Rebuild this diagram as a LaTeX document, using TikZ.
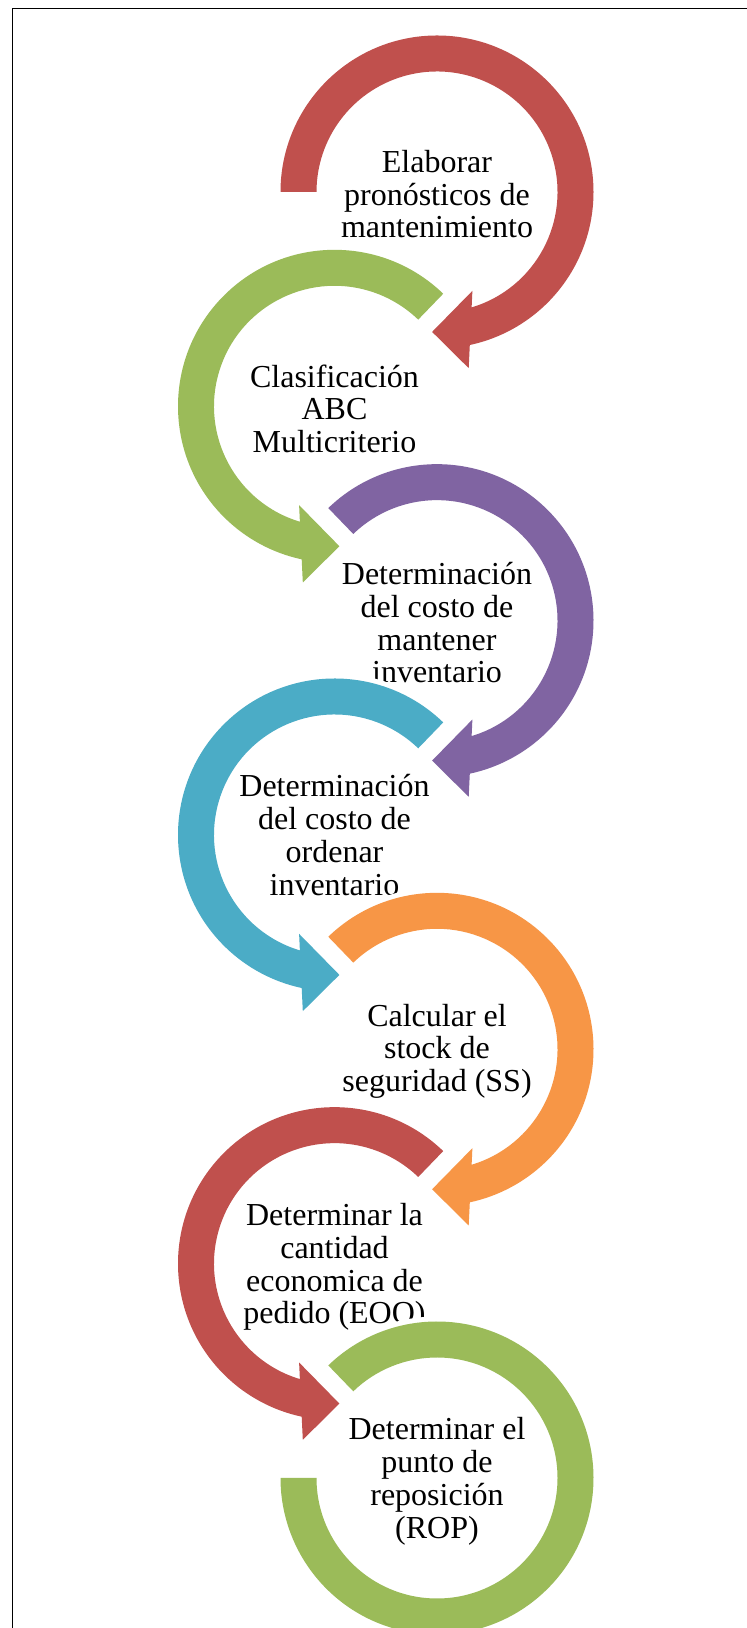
\documentclass[tikz,border=0pt]{standalone}
\usepackage{fontspec}
\setmainfont{Liberation Serif}
\usetikzlibrary{calc}
\definecolor{cRed}{HTML}{C0504D}
\definecolor{cGreen}{HTML}{9BBB59}
\definecolor{cPurple}{HTML}{8064A2}
\definecolor{cAqua}{HTML}{4BACC6}
\definecolor{cOrange}{HTML}{F79646}
\tikzset{
  ringshape/.style={fill=#1, preaction={draw=white, line width=10pt, line join=miter}},
  steplabel/.style={align=center, inner sep=0pt, font=\fontsize{32}{32.8}\selectfont, text=black},
  frameline/.style={draw=black, line width=1.4pt},
}
% ring turning clockwise (right column): centre, start angle, colour
\newcommand\cwring[3]{%
  \path[ringshape=#3] ($(#1)+(#2:156.5)$) arc[start angle=#2, end angle=-77.9, radius=156.5]
    -- ($(#1)+(-79.8:179)$) -- ($(#1)+(-92:140)$) -- ($(#1)+(-70.3:105)$) -- ($(#1)+(-73.3:120.5)$)
    arc[start angle=-73.3, end angle=#2, radius=120.5] -- cycle;}
% ring turning counter-clockwise (left column): centre, colour
\newcommand\ccwring[2]{%
  \path[ringshape=#2] ($(#1)+(46:156.5)$) arc[start angle=46, end angle=257.9, radius=156.5]
    -- ($(#1)+(259.8:179)$) -- ($(#1)+(272:140)$) -- ($(#1)+(250.3:105)$) -- ($(#1)+(253.3:120.5)$)
    arc[start angle=253.3, end angle=46, radius=120.5] -- cycle;}
\begin{document}
\begin{tikzpicture}[x=1pt, y=1pt]
\useasboundingbox (0,0) rectangle (747,1628);
\clip (0,0) rectangle (747,1628);
\fill[white] (0,0) rectangle (747,1628);
\coordinate (c1) at (437,1436);
\coordinate (c2) at (334.5,1221.67);
\coordinate (c3) at (437,1007.33);
\coordinate (c4) at (334.5,793);
\coordinate (c5) at (437,578.67);
\coordinate (c6) at (334.5,364.33);
\coordinate (c7) at (437,150);
\coordinate (fa) at (12.2,0);
\coordinate (fb) at (12.2,1619.2);
\coordinate (fc) at (747,1619.2);
\path[frameline] (fa) -- (fb) -- (fc);

\cwring{c1}{180}{cRed}
\node[steplabel] (t1) at ($(c1)+(0,-6.5)$) {\strut Elaborar\\pronósticos de\\mantenimiento\strut};

\ccwring{c2}{cGreen}
\node[steplabel] (t2) at ($(c2)+(0,-7)$) {\strut Clasificación\\ABC\\Multicriterio\strut};

\cwring{c3}{134}{cPurple}
\node[steplabel] (t3) at ($(c3)+(0,-6.5)$) {\strut Determinación\\del costo de\\mantener\\inventario\strut};

\ccwring{c4}{cAqua}
\node[steplabel] (t4) at ($(c4)+(0,-4.5)$) {\strut Determinación\\del costo de\\ordenar\\inventario\strut};

\cwring{c5}{134}{cOrange}
\node[steplabel] (t5) at ($(c5)+(0,-3)$) {\strut Calcular el\\stock de\\seguridad (SS)\strut};

\ccwring{c6}{cRed}
\node[steplabel] (t6) at ($(c6)+(0,-4.5)$) {\strut Determinar la\\cantidad\\economica de\\pedido (EOQ)\strut};

\path[ringshape=cGreen] ($(c7)+(134:156.5)$) arc[start angle=134, end angle=-180, radius=156.5]
  -- ($(c7)+(180:120.5)$) arc[start angle=-180, end angle=134, radius=120.5] -- cycle;
\node[steplabel] (t7) at ($(c7)+(0,-4.5)$) {\strut Determinar el\\punto de\\reposición\\(ROP)\strut};
\end{tikzpicture}
\end{document}
